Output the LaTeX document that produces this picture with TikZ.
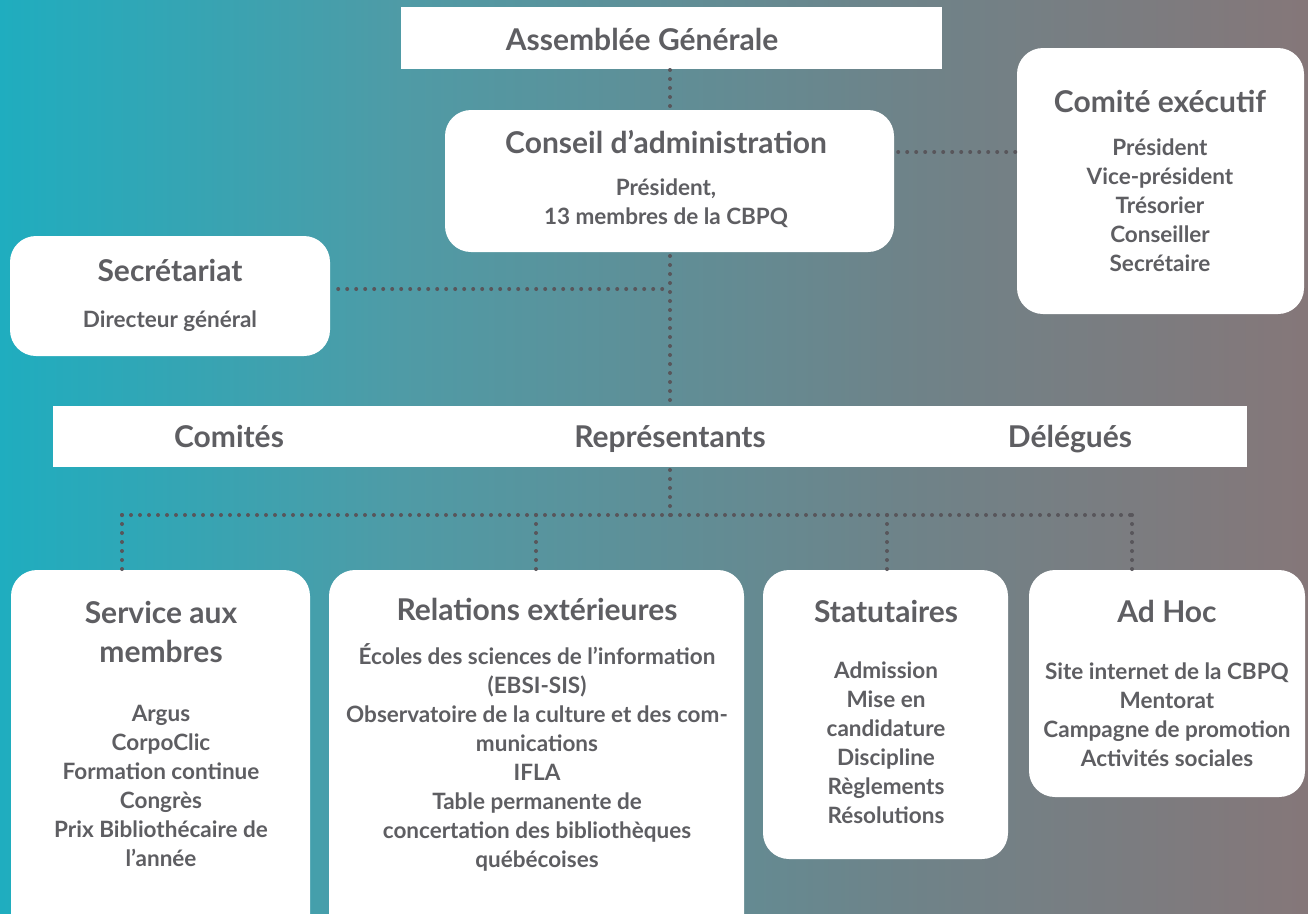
\documentclass[tikz,border=0pt]{standalone}
\usepackage{fontspec}
\setmainfont{Lato}
\definecolor{bgA}{HTML}{1FADBF}
\definecolor{bgB}{HTML}{4F9BA6}
\definecolor{bgC}{HTML}{6E8389}
\definecolor{bgD}{HTML}{857779}
\definecolor{txt}{HTML}{5E5E62}
\definecolor{dotc}{HTML}{58565B}
\tikzset{
  whitebox/.style={fill=white, draw=none, inner sep=0pt},
  roundbox/.style={whitebox, rounded corners=26pt},
  title/.style={text=txt, font=\bfseries\fontsize{30}{39}\selectfont, align=center, inner sep=0pt},
  items/.style={text=txt, font=\bfseries\fontsize{22.5}{29}\selectfont, align=center, inner sep=0pt},
  dots/.style={draw=dotc, line width=4pt, line cap=round, dash pattern=on 0pt off 9pt},
}
\begin{document}
\begin{tikzpicture}[x=1pt,y=-1pt]
\clip (0,0) rectangle (1308,913);
\shade[left color=bgA, right color=bgB] (0,0) rectangle (401,913);
\shade[left color=bgB, right color=bgC] (400,0) rectangle (901,913);
\shade[left color=bgC, right color=bgD] (900,0) rectangle (1308,913);

% boxes
\node[whitebox, minimum width=541, minimum height=62] (ag) at (671.5,38) {};
\node[roundbox, minimum width=449, minimum height=142] (ca) at (669.5,181) {};
\node[roundbox, minimum width=287, minimum height=266] (ce) at (1160.5,181) {};
\node[roundbox, minimum width=320, minimum height=120] (sec) at (170,296) {};
\node[whitebox, minimum width=1194, minimum height=61] (band) at (650,436.5) {};
\node[roundbox, minimum width=299, minimum height=370] (sm) at (160.5,755) {};
\node[roundbox, minimum width=415, minimum height=370] (re) at (536.5,755) {};
\node[roundbox, minimum width=245, minimum height=289] (st) at (885.5,714.5) {};
\node[roundbox, minimum width=276, minimum height=227] (ah) at (1167,683.5) {};

% texts
\node[title] (agt) at (642,39) {Assemblée Générale};
\node[title] (cat) at (666,142) {Conseil d’administration};
\node[items] (cai) at (666,203.5) {Président,\\13 membres de la CBPQ};
\node[title] (cet) at (1160,101) {Comité exécutif};
\node[items] (cei) at (1160,205) {Président\\Vice-président\\Trésorier\\Conseiller\\Secrétaire};
\node[title] (sect) at (170,270) {Secrétariat};
\node[items] (seci) at (170,321) {Directeur général};
\node[title, anchor=base] (b1) at (229,447) {Comités};
\node[title, anchor=base] (b2) at (670,447) {Représentants};
\node[title, anchor=base] (b3) at (1070,447) {Délégués};
\node[title] (smt) at (161,631.5) {Service aux\\membres};
\node[items] (smi) at (161,785.5) {Argus\\CorpoClic\\Formation continue\\Congrès\\Prix Bibliothécaire de\\l’année};
\node[title] (ret) at (537,609) {Relations extérieures};
\node[items] (rei) at (537,757.5) {Écoles des sciences de l’information\\(EBSI-SIS)\\Observatoire de la culture et des com-\\munications\\IFLA\\Table permanente de\\concertation des bibliothèques\\québécoises};
\node[title] (stt) at (886,611) {Statutaires};
\node[items] (sti) at (886,743) {Admission\\Mise en\\candidature\\Discipline\\Règlements\\Résolutions};
\node[title] (aht) at (1167,611) {Ad Hoc};
\node[items] (ahi) at (1167,714.5) {Site internet de la CBPQ\\Mentorat\\Campagne de promotion\\Activités sociales};

% connectors
\coordinate (j1) at (670,289);
\coordinate (j2) at (670,515);
\coordinate (h1) at (122,515);
\coordinate (h2) at (536,515);
\coordinate (h3) at (887,515);
\coordinate (h4) at (1132,515);
\draw[dots] (670,70) -- (670,110);
\draw[dots] ([xshift=4pt]ca.east |- 0,152) -- (ce.west |- 0,152);
\draw[dots] (670,256) -- (670,405);
\draw[dots] ([xshift=8pt]sec.east |- j1) -- (j1);
\draw[dots] (670,470) -- (j2);
\draw[dots] (h1) -- (h4);
\draw[dots] (h1) -- (h1 |- sm.north);
\draw[dots] (h2) -- (h2 |- re.north);
\draw[dots] (h3) -- (h3 |- st.north);
\draw[dots] (h4) -- (h4 |- ah.north);
\end{tikzpicture}
\end{document}
